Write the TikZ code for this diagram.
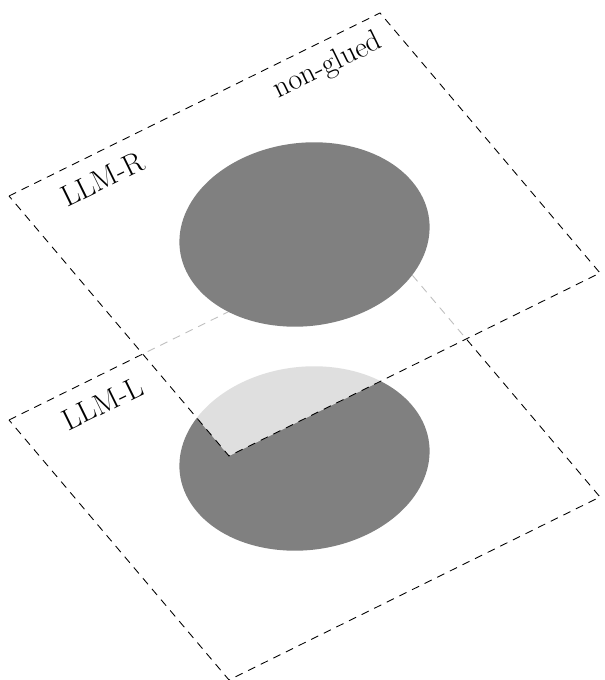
\documentclass[tikz,border=0pt]{standalone}
\begin{document}
\begin{tikzpicture}[
        borde/.style={line width=0.5pt, dash pattern=on 4.5pt off 3.5pt},
        disco/.style={fill=gray},
        etiqueta/.style={font=\fontsize{17}{20}\selectfont, rotate=26.1}]
        \useasboundingbox (0,0) rectangle (12.08,13.6);

        % Plano inferior
        \begin{scope}[cm={7.42,3.66,4.4,-5.2,(0.18,5.2)}]
            \draw[borde] (0,0) -- (1,0) -- (1,1) -- (0,1) -- cycle;
            \fill[disco] (0.5,0.5) circle (0.29);
            \node[etiqueta] (llmL) at (0.205,0.08) {LLM-L};
        \end{scope}

        % Plano superior
        \begin{scope}[cm={7.42,3.66,4.4,-5.2,(0.18,9.68)}]
            \fill[white, opacity=0.75] (0,0) -- (1,0) -- (1,1) -- (0,1) -- cycle;
            \draw[borde] (0,0) -- (1,0) -- (1,1) -- (0,1) -- cycle;
            \fill[disco] (0.5,0.5) circle (0.29);
            \node[etiqueta] (llmR) at (0.205,0.08) {LLM-R};
            \node[etiqueta] (noglued) at (0.815,0.075) {non-glued};
        \end{scope}
    \end{tikzpicture}
\end{document}
